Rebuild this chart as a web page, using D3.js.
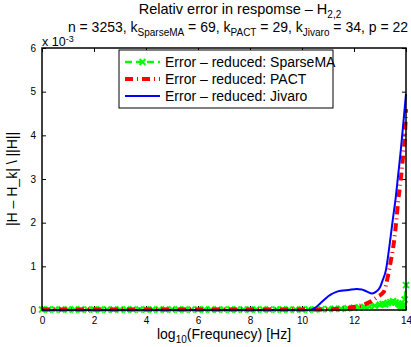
<!DOCTYPE html>
<html>
<head>
<meta charset="utf-8">
<script src="https://cdn.jsdelivr.net/npm/d3@7"></script>
<style>
  html, body { margin: 0; padding: 0; background: #fff; }
  svg { display: block; font-family: "Liberation Sans", Arial, Helvetica, sans-serif; }
</style>
</head>
<body>
<svg id="chart" width="411" height="347"></svg>
<script>
// Relative error of the reduced models (values in units of 1e-3)
const seriesNames = ["Error – reduced: SparseMA", "Error – reduced: PACT", "Error – reduced: Jivaro"];

const sparseFreq = [0, 0.25, 0.5, 0.75, 1, 1.25, 1.5, 1.75, 2, 2.25, 2.5, 2.75, 3, 3.25, 3.5, 3.75,
  4, 4.25, 4.5, 4.75, 5, 5.25, 5.5, 5.75, 6, 6.25, 6.5, 6.75, 7, 7.25, 7.5, 7.75,
  8, 8.25, 8.5, 8.75, 9, 9.25, 9.5, 9.75, 10, 10.25, 10.5, 10.75, 11, 11.25, 11.5, 11.75,
  12, 12.2, 12.4, 12.6, 12.8, 13, 13.1, 13.2, 13.3, 13.4, 13.5, 13.6, 13.7, 13.75, 13.8, 13.85, 13.9, 13.95, 14];
const sparseErr = [0.01, 0.01, 0.01, 0.01, 0.01, 0.01, 0.01, 0.01, 0.01, 0.01, 0.01, 0.01, 0.01, 0.01, 0.01, 0.01,
  0.01, 0.01, 0.01, 0.01, 0.01, 0.01, 0.01, 0.01, 0.01, 0.01, 0.01, 0.01, 0.01, 0.01, 0.01, 0.01,
  0.01, 0.01, 0.01, 0.01, 0.01, 0.01, 0.01, 0.01, 0.01, 0.01, 0.015, 0.02, 0.02, 0.03, 0.03, 0.04,
  0.05, 0.06, 0.07, 0.08, 0.1, 0.12, 0.14, 0.13, 0.16, 0.18, 0.2, 0.17, 0.15, 0.12, 0.08, 0.05, 0.1, 0.24, 0.57];

const pactFreq = [0, 2, 4, 6, 8, 10, 11, 11.5, 12, 12.3, 12.6, 12.9, 13.15, 13.3, 13.42, 13.53, 13.62, 13.7, 13.8, 13.9, 13.96, 14];
const pactErr  = [0.01, 0.01, 0.01, 0.01, 0.01, 0.01, 0.015, 0.03, 0.07, 0.11, 0.18, 0.3, 0.42, 0.76, 1.14, 1.53, 2.0, 2.5, 3.0, 3.6, 4.0, 4.6];

const jivaroFreq = [0, 2, 4, 6, 8, 10, 10.3, 10.5, 10.7, 10.9, 11.1, 11.3, 11.5, 11.8, 12.1, 12.3, 12.5, 12.7, 12.85,
  13.0, 13.1, 13.23, 13.36, 13.49, 13.6, 13.7, 13.8, 13.9, 14];
const jivaroErr  = [0, 0, 0, 0, 0, 0, 0.0, 0.05, 0.15, 0.26, 0.35, 0.41, 0.44, 0.46, 0.48, 0.47, 0.42, 0.38, 0.42,
  0.52, 0.68, 0.92, 1.45, 2.06, 2.55, 3.1, 3.66, 4.3, 4.95];

const xTicks = [0, 2, 4, 6, 8, 10, 12, 14];
const yTicks = [0, 1, 2, 3, 4, 5, 6];

const svg = d3.select("#chart");
const plotLeft = 42, plotRight = 406, plotTop = 48, plotBottom = 310;

const x = d3.scaleLinear().domain([0, 14]).range([plotLeft, plotRight]);
const y = d3.scaleLinear().domain([0, 6]).range([plotBottom, plotTop]);

// Titles
const title = svg.append("text").attr("x", 240).attr("y", 14).attr("text-anchor", "middle")
  .style("font-size", "14.5px");
title.append("tspan").text("Relativ error in respomse – H");
title.append("tspan").attr("dy", 4).style("font-size", "10px").text("2,2");

const sub = svg.append("text").attr("x", 238).attr("y", 32).attr("text-anchor", "middle")
  .style("font-size", "14px");
sub.append("tspan").text("n = 3253, k");
sub.append("tspan").attr("dy", 4).style("font-size", "10px").text("SparseMA");
sub.append("tspan").attr("dy", -4).text(" = 69, k");
sub.append("tspan").attr("dy", 4).style("font-size", "10px").text("PACT");
sub.append("tspan").attr("dy", -4).text(" = 29, k");
sub.append("tspan").attr("dy", 4).style("font-size", "10px").text("Jivaro");
sub.append("tspan").attr("dy", -4).text(" = 34, p = 22");

// Exponent marker of the y axis
const ex = svg.append("text").attr("x", 42).attr("y", 46).style("font-size", "12.5px");
ex.append("tspan").text("x 10");
ex.append("tspan").attr("dy", -4).style("font-size", "9px").text("-3");

// Axes with inward ticks on all four sides
const axisG = svg.append("g").style("font-size", "12.5px");
axisG.append("g").attr("transform", `translate(0,${plotBottom})`)
  .call(d3.axisBottom(x).tickValues(xTicks).tickSizeInner(-4).tickSizeOuter(0).tickPadding(7).tickFormat(d3.format("d")));
axisG.append("g").attr("transform", `translate(0,${plotTop})`)
  .call(d3.axisTop(x).tickValues(xTicks).tickSizeInner(-4).tickSizeOuter(0).tickFormat(""));
axisG.append("g").attr("transform", `translate(${plotLeft},0)`)
  .call(d3.axisLeft(y).tickValues(yTicks).tickSizeInner(-4).tickSizeOuter(0).tickPadding(6).tickFormat(d3.format("d")));
axisG.append("g").attr("transform", `translate(${plotRight},0)`)
  .call(d3.axisRight(y).tickValues(yTicks).tickSizeInner(-4).tickSizeOuter(0).tickFormat(""));
axisG.selectAll(".domain").remove();
axisG.selectAll("line").attr("stroke", "#000").attr("stroke-width", 1);
axisG.selectAll("text").attr("fill", "#000").style("font-family", "Liberation Sans, Arial, sans-serif");

// Axis labels
const xl = svg.append("text").attr("x", 224).attr("y", 339).attr("text-anchor", "middle")
  .style("font-size", "14px");
xl.append("tspan").text("log");
xl.append("tspan").attr("dy", 4).style("font-size", "10px").text("10");
xl.append("tspan").attr("dy", -4).text("(Frequnecy) [Hz]");

svg.append("text").attr("transform", `translate(17,${(plotTop + plotBottom) / 2}) rotate(-90)`)
  .attr("text-anchor", "middle").style("font-size", "14px").text("|H – H_k| \\ ||H||");

// Series
svg.append("clipPath").attr("id", "plotclip").append("rect")
  .attr("x", plotLeft - 6).attr("y", plotTop).attr("width", plotRight - plotLeft + 12).attr("height", plotBottom - plotTop + 6);
const plot = svg.append("g").attr("clip-path", "url(#plotclip)");

const lineGen = d3.line().x(d => x(d[0])).y(d => y(d[1])).curve(d3.curveMonotoneX);
const sparse = d3.zip(sparseFreq, sparseErr);
const pact = d3.zip(pactFreq, pactErr);
const jivaro = d3.zip(jivaroFreq, jivaroErr);

plot.append("path").datum(sparse).attr("d", lineGen).attr("fill", "none")
  .attr("stroke", "#00ff00").attr("stroke-width", 2.5).attr("stroke-dasharray", "7,4");
const xMark = s => `M${-s},${-s}L${s},${s}M${-s},${s}L${s},${-s}`;
plot.selectAll(".mk").data(sparse).join("path").attr("class", "mk")
  .attr("transform", d => `translate(${x(d[0])},${y(d[1])})`)
  .attr("d", xMark(3)).attr("stroke", "#00ff00").attr("stroke-width", 2).attr("fill", "none");

plot.append("path").datum(pact).attr("d", lineGen).attr("fill", "none")
  .attr("stroke", "#ff0000").attr("stroke-width", 4).attr("stroke-dasharray", "8,4,1,4");

plot.append("path").datum(jivaro).attr("d", lineGen).attr("fill", "none")
  .attr("stroke", "#0000ff").attr("stroke-width", 2);

// Box
svg.append("rect").attr("x", plotLeft).attr("y", plotTop).attr("width", plotRight - plotLeft).attr("height", plotBottom - plotTop)
  .attr("fill", "none").attr("stroke", "#000").attr("stroke-width", 1.5);

// Legend
const lg = svg.append("g");
lg.append("rect").attr("x", 119).attr("y", 50).attr("width", 214).attr("height", 58)
  .attr("fill", "#fff").attr("stroke", "#000").attr("stroke-width", 1);
const rowsY = [62, 79, 96];
const styles = [
  { color: "#00ff00", width: 2.5, dash: "7,4", marker: true },
  { color: "#ff0000", width: 4, dash: "8,4,1,4", marker: false },
  { color: "#0000ff", width: 2, dash: null, marker: false }
];
seriesNames.forEach((name, i) => {
  const st = styles[i];
  lg.append("line").attr("x1", 125).attr("x2", 160).attr("y1", rowsY[i]).attr("y2", rowsY[i])
    .attr("stroke", st.color).attr("stroke-width", st.width).attr("stroke-dasharray", st.dash);
  if (st.marker) {
    lg.append("path").attr("transform", `translate(142.5,${rowsY[i]})`).attr("d", xMark(3))
      .attr("stroke", st.color).attr("stroke-width", 2).attr("fill", "none");
  }
  lg.append("text").attr("x", 165).attr("y", rowsY[i] + 5).style("font-size", "14px").text(name);
});
</script>
</body>
</html>
